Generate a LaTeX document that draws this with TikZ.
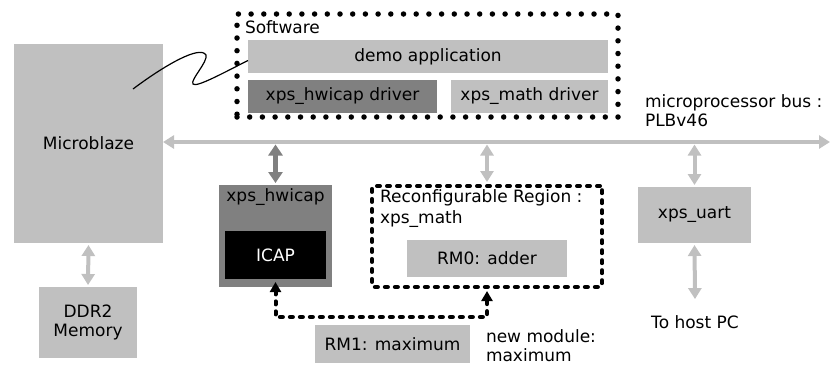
\documentclass[tikz,border=0pt]{standalone}
\usepackage{fontspec}
\setmainfont{DejaVu Sans}
\usetikzlibrary{arrows.meta}
\definecolor{lgray}{RGB}{192,192,192}
\definecolor{dgray}{RGB}{128,128,128}
\tikzset{blk/.style={fill=lgray,inner sep=0pt,outer sep=0pt,align=center,font=\fontsize{17}{19}\selectfont}}
\tikzset{txt/.style={inner sep=0pt,outer sep=0pt,align=left,font=\fontsize{17}{19}\selectfont}}
\tikzset{lnk/.style={draw=lgray,line width=4pt,>={Triangle[length=11pt,width=13pt]},<->}}
\tikzset{swbox/.style={draw,line width=5.5pt,dash pattern=on 0pt off 12.7pt,line cap=round,inner sep=0pt}}
\tikzset{rrbox/.style={draw,line width=4pt,dash pattern=on 3pt off 7pt,line cap=round,rounded corners=2pt,inner sep=0pt}}

\begin{document}
\begin{tikzpicture}[x=1pt,y=-1pt]
\useasboundingbox (0,0) rectangle (831,365);
% software
\node[swbox,minimum width=381pt,minimum height=103pt](sw)at(427.5,65.5){};
\node[txt,anchor=base west](swlbl)at(245,33){Software};
\node[blk,minimum width=360pt,minimum height=33pt](demo)at(428,56.5){demo application};
\node[blk,fill=dgray,minimum width=189pt,minimum height=33pt](hwdrv)at(342.5,96){xps\_hwicap driver};
\node[blk,minimum width=157pt,minimum height=33pt](mathdrv)at(529.5,96){xps\_math driver};
% hardware
\node[blk,minimum width=149pt,minimum height=199pt](mb)at(88.5,143.5){Microblaze};
\node[blk,minimum width=98pt,minimum height=71pt](ddr)at(88,322.5){DDR2\\Memory};
\node[blk,fill=dgray,minimum width=113pt,minimum height=102pt](hw)at(275.5,236){};
\node[txt,anchor=base](hwlbl)at(275.5,201){xps\_hwicap};
\node[blk,fill=black,text=white,minimum width=101pt,minimum height=48pt](icap)at(275.5,255){ICAP};
\node[rrbox,minimum width=230pt,minimum height=101pt](rr)at(487,236.5){};
\node[txt,anchor=north west](rrlbl)at(380,190){Reconfigurable Region :\\[2pt]xps\_math};
\node[blk,minimum width=160pt,minimum height=37pt](rm0)at(487,258.5){RM0: adder};
\node[blk,minimum width=113pt,minimum height=56pt](uart)at(694.5,215){xps\_uart};
\node[txt,anchor=base](host)at(695,328){To host PC};
\node[txt,anchor=north west](buslbl)at(645,95){microprocessor bus :\\PLBv46};
\node[blk,minimum width=155pt,minimum height=38pt](rm1)at(392.5,344){RM1: maximum};
\node[txt,anchor=north west](newmod)at(486,330){new module:\\maximum};
% connectors
\coordinate(busE)at(830,142);\coordinate(bus)at(0,144.5);\coordinate(wig)at(133,89);
\draw[lnk](mb.east|-busE)--(busE);
\draw[lnk,draw=dgray,line width=5pt,>={Triangle[length=11pt,width=14pt]}](hw.north|-bus)--([yshift=2pt]hw.north);
\draw[lnk](rr.north|-bus)--([yshift=2pt]rr.north);
\draw[lnk](uart.north|-bus)--([yshift=2pt]uart.north);
\draw[lnk,shorten <=2pt,shorten >=2pt](mb.south)--(ddr.north);
\draw[lnk,shorten <=2pt](uart.south)--([yshift=16pt]host.north);
\draw[line width=4pt,dash pattern=on 3pt off 7pt,line cap=round,>={Triangle[length=10pt,width=11pt]},<->,shorten <=-5pt,shorten >=2pt](hw.south)--(hw.south|-0,317)-|(rr.south);
\draw[line width=1.2pt](wig)..controls(165,65)and(200,45)..(206,55)..controls(208,62)and(190,80)..(193,84)..controls(196,88)and(225,72)..([yshift=-4pt]demo.west);
\end{tikzpicture}
\end{document}
